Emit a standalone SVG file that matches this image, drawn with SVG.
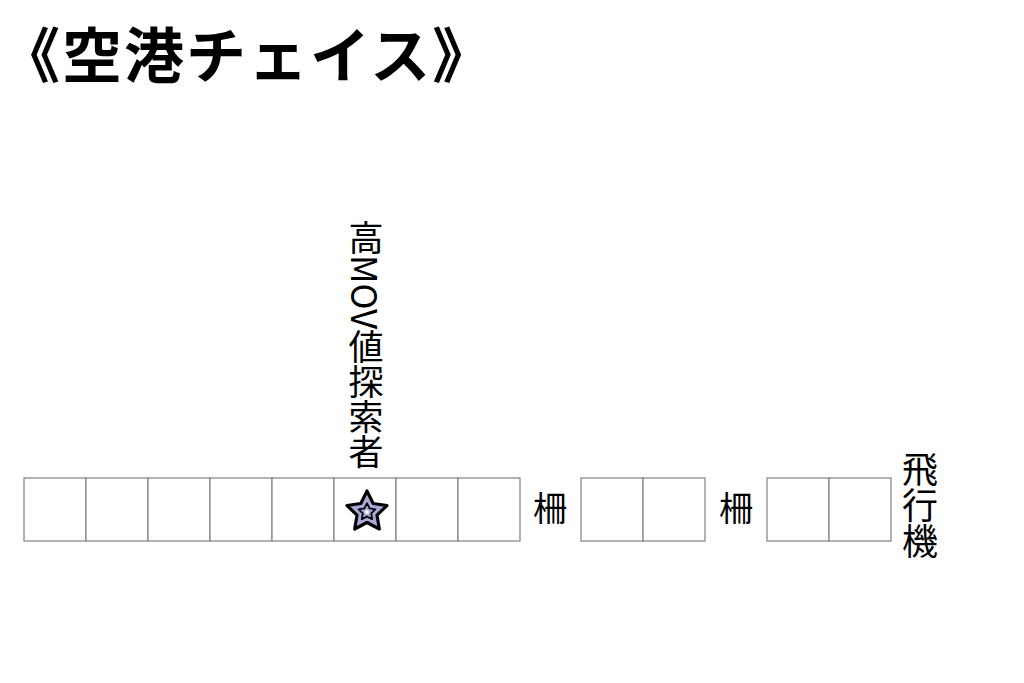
<svg xmlns="http://www.w3.org/2000/svg" width="1024" height="683" viewBox="0 0 1024 683">
<style>
.cell{fill:#fff;stroke:#808080;stroke-width:1.2}
.t{font-family:"Noto Sans CJK JP","Noto Sans",sans-serif;fill:#000}
.title{font-weight:700;font-size:60px;letter-spacing:2px}
.lbl{font-size:34px}
.v{writing-mode:vertical-rl}
</style>
<defs>
<polygon id="star" points="0,-1 0.2939,-0.4045 0.9511,-0.309 0.4755,0.1545 0.5878,0.809 0,0.5 -0.5878,0.809 -0.4755,0.1545 -0.9511,-0.309 -0.2939,-0.4045"/>
</defs>
<rect width="1024" height="683" fill="#fff"/>
<text id="title" class="t title" x="0" y="78">《空港チェイス》</text>
<g id="track">
<g id="row1">
<rect class="cell" x="24" y="478" width="62" height="63"/>
<rect class="cell" x="86" y="478" width="62" height="63"/>
<rect class="cell" x="148" y="478" width="62" height="63"/>
<rect class="cell" x="210" y="478" width="62" height="63"/>
<rect class="cell" x="272" y="478" width="62" height="63"/>
<rect class="cell" x="334" y="478" width="62" height="63"/>
<rect class="cell" x="396" y="478" width="62" height="63"/>
<rect class="cell" x="458" y="478" width="62" height="63"/>
</g>
<g id="row2">
<rect class="cell" x="581" y="478" width="62" height="63"/>
<rect class="cell" x="643" y="478" width="62" height="63"/>
</g>
<g id="row3">
<rect class="cell" x="767" y="478" width="62" height="63"/>
<rect class="cell" x="829" y="478" width="62" height="63"/>
</g>
</g>
<g id="piece">
<g transform="translate(367,512) scale(21)">
<use href="#star" fill="#a7aad9" stroke="#000" stroke-width="0.15" stroke-linejoin="round"/>
<use href="#star" transform="scale(0.42)" fill="none" stroke="#000" stroke-width="0.2" stroke-linejoin="round"/>
<circle r="0.09" fill="#fff"/>
</g>
</g>
<text id="searcher" class="t lbl v" x="366" y="220" style="font-size:35px">高MOV値探索者</text>
<text id="fence1" class="t lbl" x="533" y="521">柵</text>
<text id="fence2" class="t lbl" x="719" y="521">柵</text>
<text id="plane" class="t lbl v" x="920" y="451" style="font-size:36px">飛行機</text>
</svg>
